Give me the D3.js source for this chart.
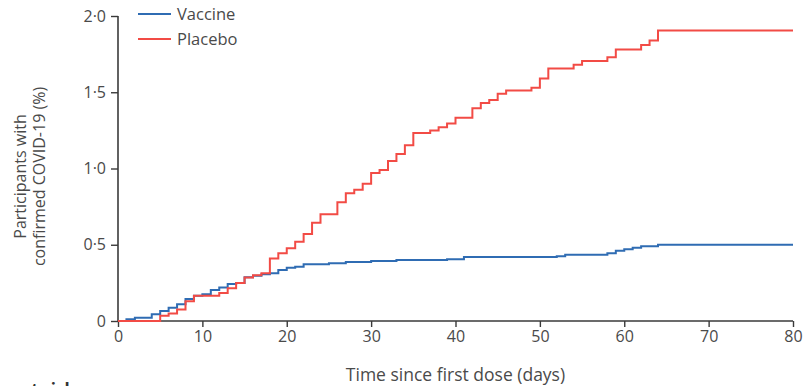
<!DOCTYPE html>
<html>
<head>
<meta charset="utf-8">
<script src="https://cdn.jsdelivr.net/npm/d3@7"></script>
<style>
  html, body { margin: 0; padding: 0; background: #fff; }
  svg { display: block; }
  text { font-family: "Open Sans", "Noto Sans", sans-serif; fill: #4a4a4a; }
</style>
</head>
<body>
<svg id="chart" width="806" height="386"></svg>
<script>
// ---- data ----
const placeboDays   = [0, 5, 6, 7, 8, 9, 12, 13, 14, 15, 16, 17, 18, 19, 20, 21, 22, 23, 24, 26, 27, 28, 29, 30, 31, 32, 33, 34, 35, 37, 38, 39, 40, 42, 43, 44, 45, 46, 49, 50, 51, 54, 55, 58, 59, 62, 63, 64, 80];
const placeboValues = [0, 0.035, 0.05, 0.075, 0.13, 0.166, 0.183, 0.214, 0.25, 0.285, 0.30, 0.313, 0.41, 0.444, 0.477, 0.52, 0.57, 0.645, 0.70, 0.778, 0.838, 0.86, 0.90, 0.97, 0.99, 1.05, 1.095, 1.152, 1.232, 1.25, 1.27, 1.295, 1.333, 1.395, 1.43, 1.45, 1.49, 1.512, 1.53, 1.59, 1.655, 1.68, 1.705, 1.73, 1.78, 1.81, 1.84, 1.905, 1.905];
const vaccineDays   = [0, 1, 2, 4, 5, 6, 7, 8, 9, 10, 11, 12, 13, 14, 15, 16, 17, 18, 19, 20, 21, 22, 25, 27, 30, 33, 39, 41, 52, 53, 58, 59, 60, 61, 62, 64, 80];
const vaccineValues = [0, 0.011, 0.022, 0.044, 0.066, 0.087, 0.11, 0.144, 0.166, 0.175, 0.203, 0.22, 0.243, 0.25, 0.287, 0.297, 0.306, 0.313, 0.334, 0.35, 0.356, 0.372, 0.378, 0.387, 0.393, 0.40, 0.405, 0.42, 0.425, 0.435, 0.445, 0.46, 0.47, 0.48, 0.49, 0.50, 0.50];
const xTicks = [0, 10, 20, 30, 40, 50, 60, 70, 80];
const yTicks = [0, 0.5, 1.0, 1.5, 2.0];
const yTickLabels = ["0", "0·5", "1·0", "1·5", "2·0"];
const seriesNames = ["Vaccine", "Placebo"];
const seriesColors = ["#2f6cb3", "#f24b45"];

// ---- layout ----
const svg = d3.select("#chart");
const margin = { left: 118, top: 16, right: 13, bottom: 65 };
const W = 806, H = 386;
const x = d3.scaleLinear().domain([0, 80]).range([margin.left, W - margin.right]);
const y = d3.scaleLinear().domain([0, 2]).range([H - margin.bottom, margin.top]);

// axes
const xAxis = d3.axisBottom(x).tickValues(xTicks).tickSize(6).tickPadding(4).tickFormat(d3.format("d"));
const yAxis = d3.axisLeft(y).tickValues(yTicks).tickSize(7).tickPadding(5)
  .tickFormat((d, i) => yTickLabels[i]);

const gx = svg.append("g").attr("transform", `translate(0,${y(0)})`).call(xAxis);
const gy = svg.append("g").attr("transform", `translate(${x(0)},0)`).call(yAxis);
[gx, gy].forEach(g => {
  g.select(".domain").attr("stroke", "#3a3a3a").attr("stroke-width", 1.6);
  g.selectAll(".tick line").attr("stroke", "#3a3a3a").attr("stroke-width", 1.4);
  g.selectAll(".tick text").style("font-size", "16px").style("fill", "#4a4a4a")
    .style("font-family", "'Open Sans', 'Noto Sans', sans-serif");
});
gx.select(".domain").attr("d", `M${x(0)},0H${x(80)}`);
gy.select(".domain").attr("d", `M0,${y(2)}V${y(0)}`);

// lines
const line = d3.line().x(d => x(d[0])).y(d => y(d[1])).curve(d3.curveStepAfter);
const vaccine = vaccineDays.map((d, i) => [d, vaccineValues[i]]);
const placebo = placeboDays.map((d, i) => [d, placeboValues[i]]);

svg.append("path").datum(vaccine).attr("d", line)
  .attr("fill", "none").attr("stroke", seriesColors[0]).attr("stroke-width", 2);
svg.append("path").datum(placebo).attr("d", line)
  .attr("fill", "none").attr("stroke", seriesColors[1]).attr("stroke-width", 2);

// legend
const legY = [14, 39];
seriesNames.forEach((name, i) => {
  svg.append("line").attr("x1", 138).attr("x2", 171).attr("y1", legY[i]).attr("y2", legY[i])
    .attr("stroke", seriesColors[i]).attr("stroke-width", 2);
  svg.append("text").attr("x", 177).attr("y", legY[i]).attr("dy", "0.35em")
    .style("font-size", "16.5px").text(name);
});

// axis titles
svg.append("text").attr("x", x(40)).attr("y", 381).attr("text-anchor", "middle")
  .style("font-size", "17.5px").text("Time since first dose (days)");
const yt = svg.append("text").attr("transform", `translate(26,${y(1) + 8}) rotate(-90)`)
  .attr("text-anchor", "middle").style("font-size", "16px");
yt.append("tspan").attr("x", 0).attr("dy", 0).text("Participants with");
yt.append("tspan").attr("x", 0).attr("dy", 19).text("confirmed COVID-19 (%)");

// cut-off caption at bottom (cropped in the reference too)
svg.append("text").attr("x", 75).attr("y", 396).attr("text-anchor", "end")
  .style("font-size", "17px").style("font-weight", "bold").style("fill", "#333").text("Number at risk");
</script>
</body>
</html>
